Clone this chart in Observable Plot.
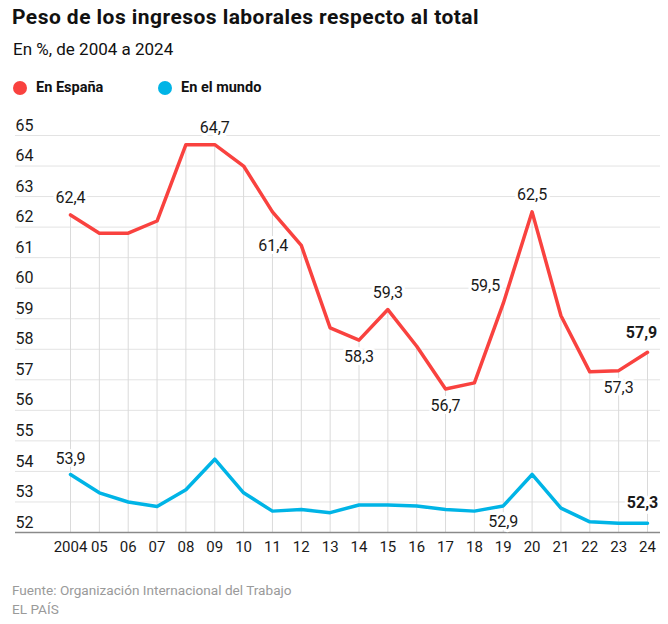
<!DOCTYPE html>
<html><head><meta charset="utf-8">
<script src="https://cdn.jsdelivr.net/npm/d3@7"></script>
<script src="https://cdn.jsdelivr.net/npm/@observablehq/plot@0.6"></script>
<style>
body{margin:0;background:#fff;font-family:Roboto,"Liberation Sans",sans-serif;color:#111;}
#wrap{position:relative;width:668px;height:624px;overflow:hidden;}
.t{position:absolute;white-space:nowrap;line-height:1;}
#chart{position:absolute;left:0;top:105px;}
.leg{position:absolute;top:79px;font-size:14.5px;font-weight:700;display:flex;align-items:center;}
.dot{width:14px;height:14px;border-radius:50%;display:inline-block;margin-right:9px;}
</style></head><body>
<div id="wrap">
<div class="t" style="left:12px;top:7px;font-size:21px;font-weight:700;letter-spacing:0.45px">Peso de los ingresos laborales respecto al total</div>
<div class="t" style="left:13px;top:41px;font-size:17px;">En %, de 2004 a 2024</div>
<div id="legend"></div>
<div id="chart"></div>
<div class="t" style="left:12px;top:584px;font-size:13.6px;color:#9a9a9a;">Fuente: Organización Internacional del Trabajo</div>
<div class="t" style="left:12px;top:603px;font-size:13.6px;color:#9a9a9a;">EL PAÍS</div>
</div>
<script>
// ---- data ----
const years = [2004,2005,2006,2007,2008,2009,2010,2011,2012,2013,2014,2015,2016,2017,2018,2019,2020,2021,2022,2023,2024];
const yearLabels = ["2004","05","06","07","08","09","10","11","12","13","14","15","16","17","18","19","20","21","22","23","24"];
const spain = [62.4,61.8,61.8,62.2,64.7,64.7,64.0,62.5,61.4,58.7,58.3,59.3,58.1,56.7,56.9,59.5,62.5,59.1,57.26,57.3,57.9];
const world = [53.9,53.3,53.0,52.85,53.4,54.4,53.3,52.7,52.75,52.65,52.9,52.9,52.87,52.75,52.7,52.87,53.9,52.8,52.35,52.3,52.3];
const yTicks = [52,53,54,55,56,57,58,59,60,61,62,63,64,65];
const seriesNames = ["En España","En el mundo"];
const seriesColors = ["#f9423f","#00b4e6"];
// annotated years
const spainAbove = [2004,2009,2015,2020];
const spainBelow = [2014,2017,2023];
const spainLeft = [2012];
const spainAboveLeft = [2019];
const spainLast = [2024];
const worldAbove = [2004];
const worldBelow = [2019];
const worldLast = [2024];

// ---- legend ----
const leg = document.getElementById("legend");
const legLefts = [13,158];
seriesNames.forEach((n,i)=>{
  const d = document.createElement("div");
  d.className = "leg";
  d.style.left = legLefts[i] + "px";
  d.innerHTML = `<span class="dot" style="background:${seriesColors[i]}"></span>${n}`;
  leg.appendChild(d);
});

const rows = years.map((year,i)=>({year, spain: spain[i], world: world[i]}));
const fmt = v => v.toFixed(1).replace(".", ",");
const pick = list => rows.filter(d => list.includes(d.year));
const base = yTicks[0];
const halo = {stroke:"white", strokeWidth:6, fill:"#1a1a1a", fontSize:16};

const chart = Plot.plot({
  width: 668, height: 457,
  marginTop: 30, marginBottom: 30, marginLeft: 15, marginRight: 8,
  style: {fontFamily: "Roboto, 'Liberation Sans', sans-serif", color:"#1a1a1a", background:"white"},
  x: {domain: [years[0], years[years.length-1]], range: [70, 647], axis: null},
  y: {domain: [yTicks[0], yTicks[yTicks.length-1]], axis: null},
  marks: [
    Plot.ruleY(yTicks, {stroke:"#e3e3e3", strokeWidth:1}),
    Plot.ruleX(rows, {x:"year", y1: base, y2:"spain", stroke:"#dadada", strokeWidth:1}),
    Plot.ruleY([base], {stroke:"#8a8a8a", strokeWidth:1.5}),
    Plot.line(rows, {x:"year", y:"world", stroke: seriesColors[1], strokeWidth:3.5}),
    Plot.line(rows, {x:"year", y:"spain", stroke: seriesColors[0], strokeWidth:3.5}),
    Plot.text(yTicks, {y: d=>d, frameAnchor:"left", textAnchor:"start", dy:-10, fontSize:16, fill:"#1a1a1a"}),
    Plot.axisX({ticks: years, tickFormat: (d)=>yearLabels[years.indexOf(d)], tickSize:0, tickPadding:9, fontSize:15, label:null}),
    Plot.text(pick(spainAbove), {x:"year", y:"spain", text:d=>fmt(d.spain), dy:-17, ...halo}),
    Plot.text(pick(spainBelow), {x:"year", y:"spain", text:d=>fmt(d.spain), dy:17, ...halo}),
    Plot.text(pick(spainLeft), {x:"year", y:"spain", text:d=>fmt(d.spain), dx:-13, textAnchor:"end", ...halo}),
    Plot.text(pick(spainAboveLeft), {x:"year", y:"spain", text:d=>fmt(d.spain), dx:-3, dy:-18, textAnchor:"end", ...halo}),
    Plot.text(pick(spainLast), {x:"year", y:"spain", text:d=>fmt(d.spain), dx:-6, dy:-19, fontWeight:"bold", ...halo}),
    Plot.text(pick(worldAbove), {x:"year", y:"world", text:d=>fmt(d.world), dy:-16, ...halo}),
    Plot.text(pick(worldBelow), {x:"year", y:"world", text:d=>fmt(d.world), dy:16, ...halo}),
    Plot.text(pick(worldLast), {x:"year", y:"world", text:d=>fmt(d.world), dx:-5, dy:-20, fontWeight:"bold", ...halo})
  ]
});
document.getElementById("chart").appendChild(chart);
</script>
</body></html>
